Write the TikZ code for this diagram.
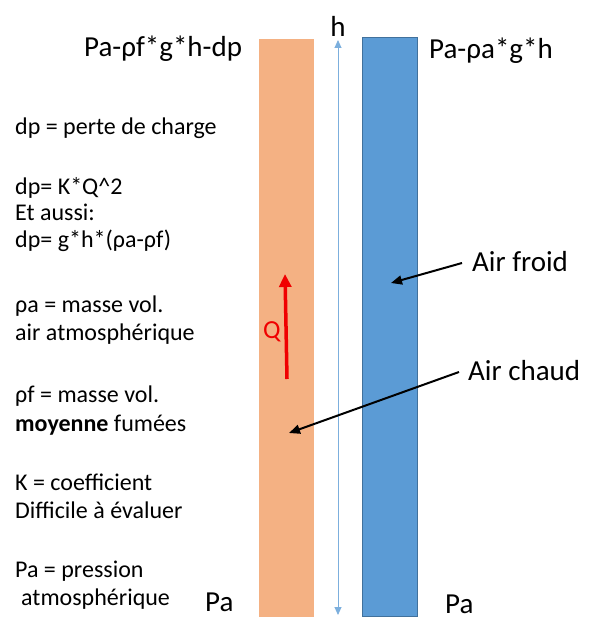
\documentclass[tikz,border=0pt]{standalone}
\usepackage{fontspec}
\setmainfont{Carlito}
\usetikzlibrary{arrows.meta}
\definecolor{tubeorange}{HTML}{F4B183}
\definecolor{tubeblue}{HTML}{5B9BD5}
\definecolor{tubeblueedge}{HTML}{41719C}
\definecolor{qred}{HTML}{F00000}
\begin{document}
\begin{tikzpicture}[x=1pt,y=-1pt,
  lefttxt/.style={anchor=base west,inner sep=0pt,font=\fontsize{24}{27}\selectfont},
  bigtxt/.style={anchor=base west,inner sep=0pt,font=\fontsize{29}{33}\selectfont},
  callout/.style={draw=black,line width=2pt,-{Triangle[length=11pt,width=9pt]}}]
\useasboundingbox (0,0) rectangle (600,639);
% tubes
\node[fill=tubeorange,draw=tubeorange,minimum width=54pt,minimum height=577pt,inner sep=0pt,anchor=north west] (hot) at (259,39) {};
\node[fill=tubeblue,draw=tubeblueedge,line width=0.8pt,minimum width=55pt,minimum height=579pt,inner sep=0pt,anchor=north west] (cold) at (362,37) {};
% h arrow
\coordinate (htop) at (338,40);
\coordinate (hbot) at (338,615);
\draw[tubeblue!80,line width=0.9pt,{Triangle[length=8pt,width=7pt]}-{Triangle[length=8pt,width=7pt]}] (htop) -- (hbot);
\node[bigtxt,anchor=base] (h) at (338,37) {h};
% top labels
\node[bigtxt] (ptl) at (84,57) {Pa-ρf*g*h-dp};
\node[bigtxt] (ptr) at (429,59) {Pa-ρa*g*h};
% bottom labels
\node[bigtxt] (pbl) at (205,611) {Pa};
\node[bigtxt] (pbr) at (445,613) {Pa};
% Q arrow
\coordinate (qtail) at (287,379);
\coordinate (qhead) at (285,274);
\draw[qred,line width=3.5pt,-{Triangle[length=13pt,width=12pt]}] (qtail) -- (qhead);
\node[anchor=base west,inner sep=0pt,text=qred,font=\fontsize{26}{30}\selectfont] (q) at (263,338) {Q};
% left text
\node[lefttxt] (l1) at (15,135) {dp = perte de charge};
\node[lefttxt] (l2) at (15,194) {dp= K*Q\^{}2};
\node[lefttxt] (l3) at (15,220) {Et aussi:};
\node[lefttxt] (l4) at (15,247) {dp= g*h*(ρa-ρf)};
\node[lefttxt] (l5) at (15,312) {ρa = masse vol.};
\node[lefttxt] (l6) at (15,340) {air atmosphérique};
\node[lefttxt] (l7) at (15,402) {ρf = masse vol.};
\node[lefttxt] (l8) at (15,431) {\textbf{moyenne} fumées};
\node[lefttxt] (l9) at (15,490) {K = coefficient};
\node[lefttxt] (l10) at (15,518) {Difficile à évaluer};
\node[lefttxt] (l11) at (15,577) {Pa = pression};
\node[lefttxt] (l12) at (21,605) {atmosphérique};
% callouts
\node[bigtxt] (af) at (472,271) {Air froid};
\node[bigtxt] (ac) at (468,380) {Air chaud};
\coordinate (afstart) at (462,263);
\coordinate (aftip) at (391,283);
\coordinate (acstart) at (459,372);
\coordinate (actip) at (289,433);
\draw[callout] (afstart) -- (aftip);
\draw[callout] (acstart) -- (actip);
\end{tikzpicture}
\end{document}
